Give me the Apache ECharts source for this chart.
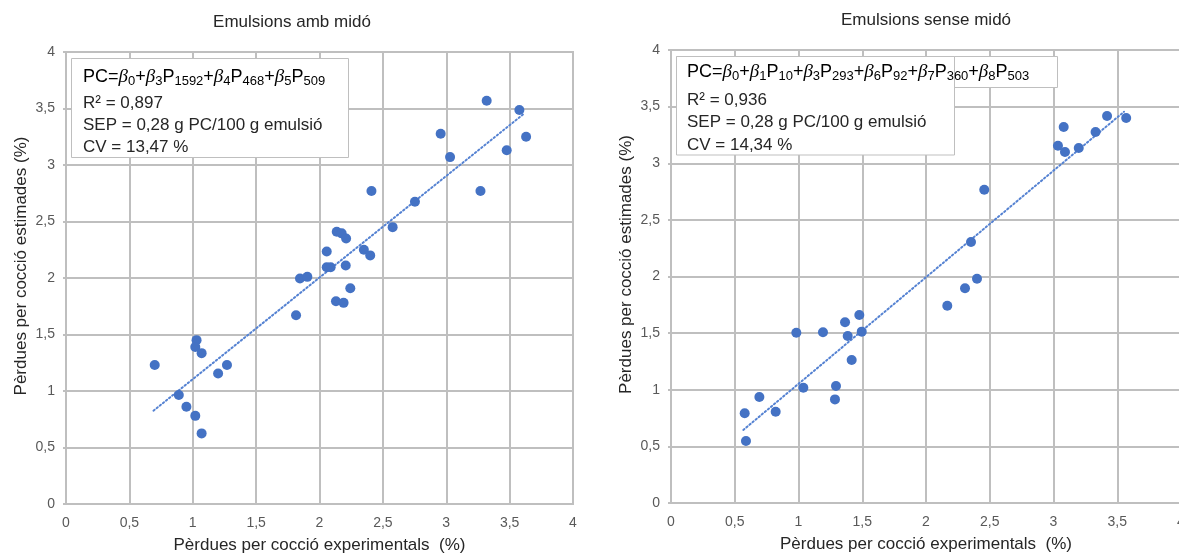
<!DOCTYPE html>
<html>
<head>
<meta charset="utf-8">
<script src="https://cdn.jsdelivr.net/npm/echarts@6/dist/echarts.min.js"></script>
<style>html,body{margin:0;padding:0;background:#fff;}#c{width:1179px;height:554px;}</style>
</head>
<body>
<div id="c"></div>
<script>
// ---- Data ----
var leftTitle = 'Emulsions amb midó';
var rightTitle = 'Emulsions sense midó';
var xAxisName = 'Pèrdues per cocció experimentals  (%)';
var yAxisName = 'Pèrdues per cocció estimades (%)';
var axisTicks = [0, 0.5, 1, 1.5, 2, 2.5, 3, 3.5, 4];

var leftX = [0.70, 0.89, 0.95, 1.02, 1.07, 1.03, 1.02, 1.07, 1.20, 1.27,
             1.815, 1.846, 1.904, 2.057, 2.057, 2.088, 2.13, 2.19, 2.243, 2.207,
             2.136, 2.175, 2.21, 2.35, 2.40, 2.41, 2.577, 2.753, 2.956, 3.03,
             3.27, 3.319, 3.477, 3.577, 3.63];
var leftY = [1.23, 0.965, 0.86, 0.78, 0.625, 1.45, 1.39, 1.335, 1.155, 1.23,
             1.67, 1.995, 2.01, 2.235, 2.095, 2.095, 1.795, 1.78, 1.91, 2.11,
             2.41, 2.395, 2.35, 2.25, 2.20, 2.77, 2.45, 2.675, 3.277, 3.07,
             2.77, 3.569, 3.13, 3.487, 3.25];
var leftTrendX = [0.69, 3.62];
var leftTrendY = [0.826, 3.46];

var rightX = [0.578, 0.588, 0.693, 0.821, 0.983, 1.038, 1.192, 1.286, 1.294, 1.365,
              1.386, 1.417, 1.477, 1.496, 2.167, 2.306, 2.353, 2.40, 2.457, 3.035,
              3.08, 3.09, 3.198, 3.33, 3.42, 3.57];
var rightY = [0.792, 0.547, 0.936, 0.806, 1.504, 1.018, 1.507, 0.915, 1.033, 1.596,
              1.475, 1.263, 1.66, 1.513, 1.742, 1.896, 2.305, 1.98, 2.766, 3.155,
              3.32, 3.10, 3.135, 3.276, 3.417, 3.40];
var rightTrendX = [0.567, 3.553];
var rightTrendY = [0.645, 3.455];

var leftStats = ['R² = 0,897', 'SEP = 0,28 g PC/100 g emulsió', 'CV = 13,47 %'];
var rightStats = ['R² = 0,936', 'SEP = 0,28 g PC/100 g emulsió', 'CV = 14,34 %'];
// equation terms: [coefficient index, variable subscript]
var leftEqTerms = [['0', ''], ['3', '1592'], ['4', '468'], ['5', '509']];
var rightEqTerms = [['0', ''], ['1', '10'], ['3', '293'], ['6', '92'], ['7', '360'], ['8', '503']];

// ---- Helpers ----
function pairs(xs, ys) { return xs.map(function (x, i) { return [x, ys[i]]; }); }
function fmt(v) { return String(v).replace('.', ','); }
function eqText(terms) {
  var s = '{n|PC=}';
  terms.forEach(function (t, i) {
    if (i > 0) s += '{n|+}';
    s += '{b|β}{s|' + t[0] + '}';
    if (t[1]) s += '{n|P}{s|' + t[1] + '}';
  });
  return s;
}

var FONT = 'Liberation Sans, Arial, sans-serif';
var BLUE = '#4472C4';
var TREND = '#5582d2';
var GRIDC = '#bfbfbf';
var TXT = '#262626';
var TICKC = '#595959';

var eqRich = {
  n: { fontSize: 18, fontFamily: FONT, color: TXT },
  b: { fontSize: 19, fontFamily: 'Liberation Serif, serif', fontStyle: 'italic', color: TXT },
  s: { fontSize: 13, fontFamily: FONT, color: TXT, padding: [9, 0, 0, 0] }
};

function makeAxis(gridIndex, isY) {
  var a = {
    type: 'value', gridIndex: gridIndex, min: 0, max: 4, interval: 0.5,
    axisLine: { show: true, lineStyle: { color: GRIDC, width: 2 } },
    axisTick: { show: isY, length: 3, lineStyle: { color: GRIDC, width: 2 } },
    splitLine: { show: true, lineStyle: { color: GRIDC, width: 2 } },
    axisLabel: {
      formatter: fmt, color: TICKC, fontSize: 14, fontFamily: FONT,
      margin: isY ? 11 : 12, showMaxLabel: true, showMinLabel: true
    },
    name: isY ? yAxisName : xAxisName,
    nameLocation: 'middle',
    nameGap: isY ? 36 : 33,
    nameTextStyle: isY
      ? { fontSize: 17, fontFamily: FONT, color: TXT, padding: [0, 0, 0, 24] }
      : { fontSize: 17, fontFamily: FONT, color: TXT }
  };
  return a;
}

var chart = echarts.init(document.getElementById('c'));
var option = {
  backgroundColor: '#ffffff',
  animation: false,
  title: [
    { text: leftTitle, left: 292, top: 14, textAlign: 'center', padding: 0,
      textStyle: { fontSize: 17, fontWeight: 'normal', fontFamily: FONT, color: TXT } },
    { text: rightTitle, left: 926, top: 12, textAlign: 'center', padding: 0,
      textStyle: { fontSize: 17, fontWeight: 'normal', fontFamily: FONT, color: TXT } }
  ],
  grid: [
    { left: 66, top: 52, width: 507, height: 452, show: true, borderColor: GRIDC, borderWidth: 2,
      containLabel: false, outerBoundsMode: 'none' },
    { left: 671, top: 50, width: 510, height: 453, show: true, borderColor: GRIDC, borderWidth: 2,
      containLabel: false, outerBoundsMode: 'none' }
  ],
  xAxis: [makeAxis(0, false), makeAxis(1, false)],
  yAxis: [makeAxis(0, true), makeAxis(1, true)],
  series: [
    { type: 'line', xAxisIndex: 0, yAxisIndex: 0, data: pairs(leftTrendX, leftTrendY),
      showSymbol: false, symbol: 'none', z: 2,
      lineStyle: { color: TREND, width: 2, type: [1.5, 2.5], cap: 'round' } },
    { type: 'scatter', xAxisIndex: 0, yAxisIndex: 0, data: pairs(leftX, leftY),
      symbol: 'circle', symbolSize: 10, itemStyle: { color: BLUE, opacity: 1 }, z: 3 },
    { type: 'line', xAxisIndex: 1, yAxisIndex: 1, data: pairs(rightTrendX, rightTrendY),
      showSymbol: false, symbol: 'none', z: 2,
      lineStyle: { color: TREND, width: 2, type: [1.5, 2.5], cap: 'round' } },
    { type: 'scatter', xAxisIndex: 1, yAxisIndex: 1, data: pairs(rightX, rightY),
      symbol: 'circle', symbolSize: 10, itemStyle: { color: BLUE, opacity: 1 }, z: 3 }
  ],
  graphic: [
    // left annotation box
    { type: 'rect', shape: { x: 71.5, y: 58.5, width: 277, height: 99 }, z: 10,
      style: { fill: '#ffffff', stroke: '#bfbfbf', lineWidth: 1 } },
    { type: 'text', x: 83, y: 77, z: 11,
      style: { text: eqText(leftEqTerms), rich: eqRich, verticalAlign: 'middle', textAlign: 'left' } },
    { type: 'text', x: 83, y: 103, z: 11,
      style: { text: leftStats[0], fontSize: 17, fontFamily: FONT, fill: TXT, verticalAlign: 'middle' } },
    { type: 'text', x: 83, y: 125, z: 11,
      style: { text: leftStats[1], fontSize: 17, fontFamily: FONT, fill: TXT, verticalAlign: 'middle' } },
    { type: 'text', x: 83, y: 147, z: 11,
      style: { text: leftStats[2], fontSize: 17, fontFamily: FONT, fill: TXT, verticalAlign: 'middle' } },
    // right annotation boxes
    { type: 'rect', shape: { x: 676.5, y: 56.5, width: 381, height: 31 }, z: 10,
      style: { fill: '#ffffff', stroke: '#bfbfbf', lineWidth: 1 } },
    { type: 'rect', shape: { x: 676.5, y: 56.5, width: 278, height: 98.5 }, z: 10,
      style: { fill: '#ffffff', stroke: '#bfbfbf', lineWidth: 1 } },
    { type: 'text', x: 687, y: 72, z: 11,
      style: { text: eqText(rightEqTerms), rich: eqRich, verticalAlign: 'middle', textAlign: 'left' } },
    { type: 'text', x: 687, y: 100, z: 11,
      style: { text: rightStats[0], fontSize: 17, fontFamily: FONT, fill: TXT, verticalAlign: 'middle' } },
    { type: 'text', x: 687, y: 122, z: 11,
      style: { text: rightStats[1], fontSize: 17, fontFamily: FONT, fill: TXT, verticalAlign: 'middle' } },
    { type: 'text', x: 687, y: 145, z: 11,
      style: { text: rightStats[2], fontSize: 17, fontFamily: FONT, fill: TXT, verticalAlign: 'middle' } }
  ]
};
chart.setOption(option);
</script>
</body>
</html>
